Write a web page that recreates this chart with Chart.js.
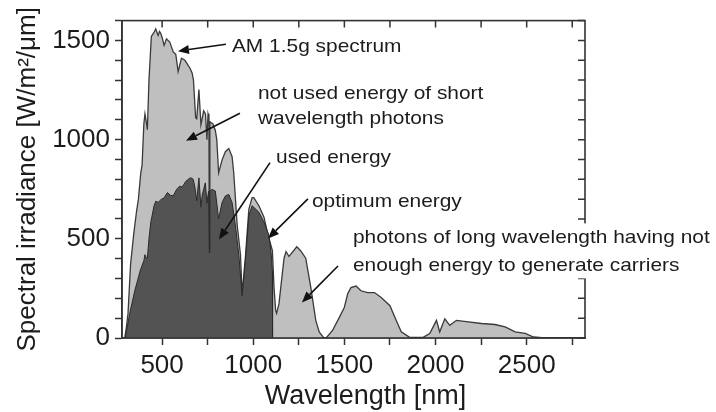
<!DOCTYPE html>
<html>
<head>
<meta charset="utf-8">
<script src="https://cdn.jsdelivr.net/npm/chart.js@4/dist/chart.umd.min.js"></script>
<style>
  html, body { margin: 0; padding: 0; background: #fff; }
  #c { display: block; }
</style>
</head>
<body>
<canvas id="c" width="716" height="412"></canvas>
<script>
// ---- data ----
const amWavelength = [295,305,313,327,345,360,370,383,390,400,406,413,419,428,441,450,458,465,472,478,486,493,500,511,524,542,561,575,588,606,625,653,665,672,684,690,702,713,728,738,746,752,757,759,762,779,792,800,810,829,847,866,884,893,912,930,939,958,976,994,1003,1031,1059,1077,1096,1105,1114,1123,1128,1141,1169,1180,1196,1239,1260,1288,1316,1343,1362,1385,1400,1436,1473,1500,1518,1536,1564,1591,1628,1665,1702,1750,1784,1812,1858,1932,1968,1987,2005,2023,2051,2078,2115,2180,2253,2326,2382,2437,2492,2538,2600,2820];
const amIrradiance = [0,60,124,371,530,640,700,832,870,1080,1130,1090,1050,1300,1520,1533,1545,1558,1540,1525,1545,1535,1515,1475,1508,1492,1442,1430,1343,1410,1400,1360,1335,1300,1110,1105,1252,1075,1145,1130,1000,1130,1110,430,1090,1079,1046,1000,832,898,939,955,914,832,568,419,221,419,650,708,708,667,609,535,470,440,254,139,124,172,402,436,411,460,440,402,254,89,31,3,0,40,105,155,223,254,262,238,229,229,204,163,89,31,3,3,23,56,89,31,97,64,89,81,73,68,56,31,23,5,0,0];

const usedWavelength = [298,322,350,380,400,406,413,419,428,438,456,466,478,496,510,529,545,561,580,597,610,630,653,665,671,680,690,702,713,720,737,746,755,759,762,774,792,810,829,847,866,884,902,921,939,958,976,994,1031,1059,1086,1099,1105,1106];
const usedIrradiance = [0,122,238,340,390,420,405,400,500,584,667,690,683,700,705,733,720,716,750,766,760,790,807,805,799,760,692,807,660,720,782,680,740,430,740,749,741,600,683,716,724,683,568,419,213,402,617,667,634,584,518,419,337,0];

const xTickValues = [500,750,1000,1250,1500,1750,2000,2250,2500,2750];
const xTickLabels = ['500','','1000','','1500','','2000','','2500',''];
const yTickValues = [0,100,200,300,400,500,600,700,800,900,1000,1100,1200,1300,1400,1500,1600];
const yTickLabels = ['0','','','','','500','','','','','1000','','','','','1500',''];

// annotations: [text lines, text anchor (nm, W/m²/µm), arrow tail, arrow head]
const notes = [
  { lines: ['AM 1.5g spectrum'], at: [883, 1441], tail: [850, 1481], head: [587, 1446] },
  { lines: ['not used energy of short', 'wavelength photons'], at: [1026, 1207], tail: [927, 1133], head: [631, 994] },
  { lines: ['used energy'], at: [1125, 884], tail: [1092, 884], head: [812, 497] },
  { lines: ['optimum energy'], at: [1322, 661], tail: [1300, 701], head: [1081, 502] },
  { lines: ['photons of long wavelength having not', 'enough energy to generate carriers'], at: [1547, 477], tail: [1465, 363], head: [1267, 179], box: true }
];
const xTitle = 'Wavelength [nm]';
const yTitle = 'Spectral irradiance [W/m²/μm]';

const INK = '#1c1c1c';
const LINE = '#333333';
const FONT = '"Liberation Sans", Arial, Helvetica, sans-serif';

const framePlugin = {
  id: 'frame',
  afterDraw(chart) {
    const { ctx, chartArea: a, scales: { x, y } } = chart;
    ctx.save();
    // mirrored inward ticks on top and right
    ctx.strokeStyle = LINE;
    ctx.lineWidth = 1.5;
    ctx.beginPath();
    x.ticks.forEach(t => {
      const px = x.getPixelForValue(t.value);
      ctx.moveTo(px, a.top); ctx.lineTo(px, a.top + 7);
    });
    y.ticks.forEach(t => {
      const py = y.getPixelForValue(t.value);
      ctx.moveTo(a.right, py); ctx.lineTo(a.right - 7, py);
    });
    ctx.stroke();
    // frame
    ctx.lineWidth = 1.6;
    ctx.strokeRect(a.left, a.top, a.right - a.left, a.bottom - a.top);

    // x axis title
    ctx.fillStyle = INK;
    ctx.font = '27px ' + FONT;
    ctx.textAlign = 'center';
    ctx.textBaseline = 'middle';
    ctx.fillText(xTitle, (a.left + a.right) / 2 + 12, a.bottom + 59);

    // annotations
    const sx = 1.1, fs = 19, lh = 28;
    ctx.font = fs + 'px ' + FONT;
    notes.forEach(n => {
      const tx = x.getPixelForValue(n.at[0]);
      const ty = y.getPixelForValue(n.at[1]);
      if (n.box) {
        let w = 0;
        n.lines.forEach(l => { w = Math.max(w, ctx.measureText(l).width * sx); });
        ctx.fillStyle = '#ffffff';
        ctx.fillRect(tx - 4, ty - 20, w + 8, lh * (n.lines.length - 1) + 27);
      }
      ctx.fillStyle = INK;
      ctx.textBaseline = 'alphabetic';
      ctx.textAlign = 'left';
      n.lines.forEach((l, i) => {
        ctx.save();
        ctx.translate(tx, ty + i * (n.lines.length > 1 && !n.box ? 25 : lh));
        ctx.scale(sx, 1);
        ctx.fillText(l, 0, 0);
        ctx.restore();
      });
      // arrow
      const x0 = x.getPixelForValue(n.tail[0]), y0 = y.getPixelForValue(n.tail[1]);
      const x1 = x.getPixelForValue(n.head[0]), y1 = y.getPixelForValue(n.head[1]);
      const ang = Math.atan2(y1 - y0, x1 - x0);
      const hl = 11, hw = 4.5;
      const bx = x1 - hl * Math.cos(ang), by = y1 - hl * Math.sin(ang);
      ctx.strokeStyle = '#111';
      ctx.lineWidth = 1.6;
      ctx.beginPath(); ctx.moveTo(x0, y0); ctx.lineTo(bx, by); ctx.stroke();
      ctx.fillStyle = '#111';
      ctx.beginPath();
      ctx.moveTo(x1, y1);
      ctx.lineTo(bx + hw * Math.sin(ang), by - hw * Math.cos(ang));
      ctx.lineTo(bx - hw * Math.sin(ang), by + hw * Math.cos(ang));
      ctx.closePath(); ctx.fill();
    });
    ctx.restore();
  }
};

const toPts = (xs, ys) => xs.map((v, i) => ({ x: v, y: ys[i] }));
const labelFor = (vals, labels) => v => { const i = vals.indexOf(v); return i >= 0 ? labels[i] : ''; };

new Chart(document.getElementById('c'), {
  type: 'line',
  data: {
    datasets: [
      {
        label: 'AM 1.5g spectrum',
        data: toPts(amWavelength, amIrradiance),
        borderColor: '#3a3a3a', borderWidth: 1.3,
        backgroundColor: '#bfbfbf', fill: 'origin',
        pointRadius: 0, tension: 0, order: 2
      },
      {
        label: 'used energy',
        data: toPts(usedWavelength, usedIrradiance),
        borderColor: '#2a2a2a', borderWidth: 1,
        backgroundColor: '#535353', fill: 'origin',
        pointRadius: 0, tension: 0, order: 1
      }
    ]
  },
  options: {
    responsive: false,
    animation: false,
    devicePixelRatio: 1,
    layout: { padding: { left: 0, top: 16, right: 131, bottom: 0 } },
    plugins: { legend: { display: false }, tooltip: { enabled: false } },
    scales: {
      x: {
        type: 'linear', min: 280, max: 2820,
        afterBuildTicks(s) { s.ticks = xTickValues.map(v => ({ value: v })); },
        afterFit(s) { s.height = 74; },
        ticks: {
          autoSkip: false, maxRotation: 0,
          color: INK, font: { family: FONT, size: 26 }, padding: 5,
          callback: labelFor(xTickValues, xTickLabels)
        },
        grid: { drawOnChartArea: false, tickLength: 7, color: LINE, tickWidth: 1.5 },
        border: { display: true, color: LINE, width: 1.5 },
        title: { display: false }
      },
      y: {
        type: 'linear', min: 0, max: 1600,
        afterBuildTicks(s) { s.ticks = yTickValues.map(v => ({ value: v })); },
        afterFit(s) { s.width = 122; },
        ticks: {
          autoSkip: false,
          color: INK, font: { family: FONT, size: 26 }, padding: 5,
          callback: labelFor(yTickValues, yTickLabels)
        },
        grid: { drawOnChartArea: false, tickLength: 7, color: LINE, tickWidth: 1.5 },
        border: { display: true, color: LINE, width: 1.5 },
        title: { display: true, text: yTitle, color: INK, font: { family: FONT, size: 26, lineHeight: 1 }, padding: { top: 15, bottom: 0 } }
      }
    }
  },
  plugins: [framePlugin]
});
</script>
</body>
</html>
